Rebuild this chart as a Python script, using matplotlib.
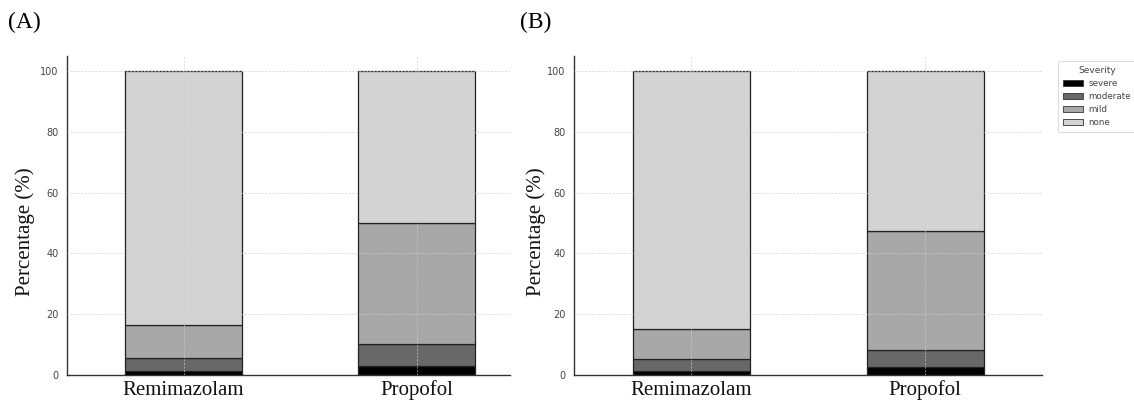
import matplotlib
matplotlib.use("Agg")
import matplotlib.pyplot as plt
from matplotlib.patches import Patch
import numpy as np

groups = ["Remimazolam", "Propofol"]
severity_labels = ["severe", "moderate", "mild", "none"]
severity_colors = ["#000000", "#686868", "#a8a8a8", "#d3d3d3"]

# Panel A percentages
A_severe = [1.3, 3.1]
A_moderate = [4.4, 7.2]
A_mild = [10.7, 39.6]
A_none = [83.6, 50.1]

# Panel B percentages
B_severe = [1.3, 2.7]
B_moderate = [4.1, 5.5]
B_mild = [9.7, 39.2]
B_none = [84.9, 52.6]

W, H = 1134, 404
fig = plt.figure(figsize=(W / 100, H / 100), dpi=100)

serif = ["Liberation Serif", "DejaVu Serif"]


def make_panel(rect, series, xlim, label_x):
    ax = fig.add_axes(rect)
    x = np.arange(len(groups))
    bottom = np.zeros(len(groups))
    for vals, col, lab in zip(series, severity_colors, severity_labels):
        ax.bar(x, vals, width=0.5, bottom=bottom, color=col, edgecolor="#222222",
               linewidth=0.9, label=lab, zorder=2)
        bottom = bottom + np.array(vals)
    ax.set_xlim(*xlim)
    ax.set_ylim(0, 105)
    ax.set_xticks(x)
    ax.set_xticklabels(groups, fontfamily=serif, fontsize=15, color="#111111")
    ax.set_yticks([0, 20, 40, 60, 80, 100])
    ax.tick_params(axis="y", length=0, pad=6, labelsize=7, labelcolor="#444444")
    ax.tick_params(axis="x", length=0, pad=4)
    for s in ["top", "right"]:
        ax.spines[s].set_visible(False)
    for s in ["left", "bottom"]:
        ax.spines[s].set_color("#333333")
        ax.spines[s].set_linewidth(1.0)
    ax.grid(True, color="#cccccc", linestyle=(0, (3, 2)), linewidth=0.5, alpha=0.9, zorder=3)
    ax.set_axisbelow(False)
    ax.set_ylabel("Percentage (%)", fontfamily=serif, fontsize=15, color="#111111")
    ax.yaxis.set_label_coords(label_x, 0.45)
    return ax


axA = make_panel([67 / W, 1 - 375 / H, (510 - 67) / W, (375 - 56) / H],
                 [A_severe, A_moderate, A_mild, A_none], (-0.5, 1.40), -0.072)
axB = make_panel([574 / W, 1 - 375 / H, (1042 - 574) / W, (375 - 56) / H],
                 [B_severe, B_moderate, B_mild, B_none], (-0.5, 1.5), -0.060)

fig.text(8 / W, 1 - 22 / H, "(A)", fontfamily=serif, fontsize=17, va="center", ha="left")
fig.text(520 / W, 1 - 22 / H, "(B)", fontfamily=serif, fontsize=17, va="center", ha="left")

handles = [Patch(facecolor=c, edgecolor="#333333", linewidth=0.6, label=l)
           for c, l in zip(severity_colors, severity_labels)]
leg = fig.legend(handles=handles, title="Severity", loc="upper left",
                 bbox_to_anchor=(1058 / W, 1 - 61 / H), borderaxespad=0,
                 fontsize=6.3, title_fontsize=6.5,
                 frameon=True, borderpad=0.6, handlelength=2.3, handleheight=0.8,
                 labelspacing=0.45, handletextpad=0.6)
leg.get_frame().set_edgecolor("#cccccc")
leg.get_frame().set_linewidth(0.6)
for t in leg.get_texts():
    t.set_color("#444444")
leg.get_title().set_color("#444444")

fig.savefig("out.png", dpi=100)
